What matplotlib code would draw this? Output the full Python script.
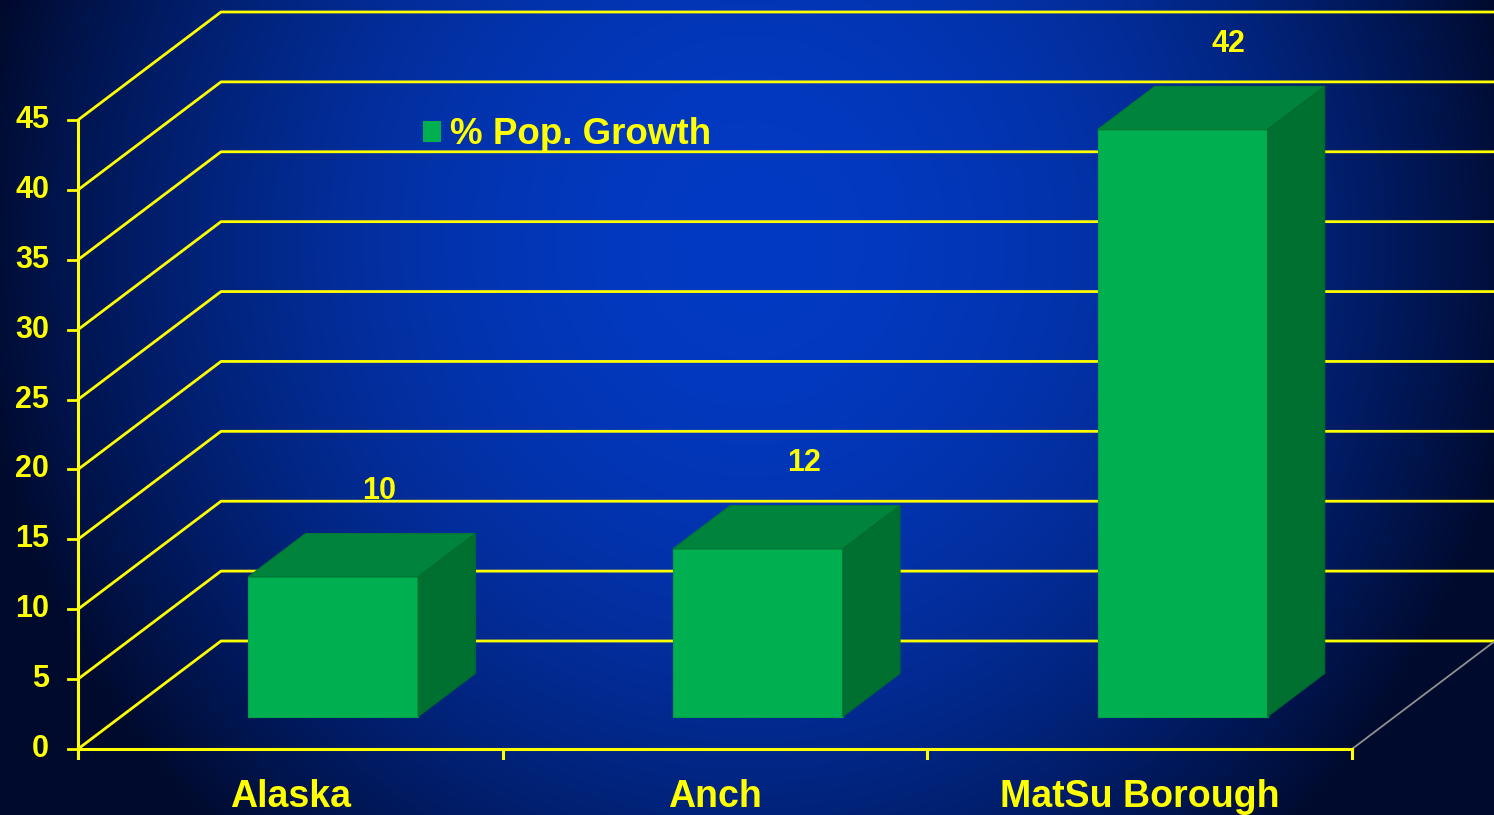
import matplotlib.pyplot as plt
from matplotlib.patches import Polygon, Patch
import numpy as np

categories = ['Alaska', 'Anch', 'MatSu Borough']
growth = [10, 12, 42]
yticks = [0, 5, 10, 15, 20, 25, 30, 35, 40, 45]
series_name = '% Pop. Growth'

W, H = 1494, 815
# pixel layout of the front plane
X0, XW = 78, 424.67      # x pixel of category 0 edge, pixels per category
Y0, YS = 749, 13.978     # y pixel (from top) of value 0, pixels per unit
DX, DY = 143 / XW, 108 / YS   # full depth offset in data units

YELLOW = '#FFFF00'
plt.rcParams['font.family'] = ['Liberation Sans', 'DejaVu Sans']
plt.rcParams['font.weight'] = 'bold'

fig = plt.figure(figsize=(W / 100, H / 100), dpi=100)

# background gradient
bg = fig.add_axes([0, 0, 1, 1])
yy, xx = np.mgrid[0:H, 0:W]
r2 = ((xx - 750) / 780.0) ** 2 + ((yy - 240) / 820.0) ** 2
f = np.clip(1 - r2, 0, 1)[..., None]
dark = np.array([0, 10, 45]) / 255
bright = np.array([3, 58, 195]) / 255
bg.imshow(dark + (bright - dark) * f, aspect='auto', extent=(0, W, H, 0))
bg.axis('off')

ax = fig.add_axes([0, 0, 1, 1])
ax.patch.set_alpha(0)
ax.set_xlim(-X0 / XW, (W - X0) / XW)
ax.set_ylim(-(H - Y0) / YS, Y0 / YS)
ax.axis('off')

n = len(categories)

# walls: grid lines on side and back walls
for v in yticks:
    ax.plot([0, DX, n + DX], [v, v + DY, v + DY], color=YELLOW, lw=2, zorder=2)
    ax.plot([-10 / XW, 0], [v, v], color=YELLOW, lw=2, zorder=2)
# front value axis and floor edge
ax.plot([0, 0], [0, yticks[-1]], color=YELLOW, lw=2.2, zorder=3)
ax.plot([0, n], [0, 0], color=YELLOW, lw=2.2, zorder=3)
for i in range(n + 1):
    ax.plot([i, i], [0, -9 / YS], color=YELLOW, lw=2.2, zorder=3)
ax.plot([n, n + DX], [0, DY], color='#909090', lw=1.3, zorder=2)

# 3D bars
d0, d1 = 0.3, 0.7
for i, v in enumerate(growth):
    xl = i + 0.3 + d0 * DX
    xr = i + 0.7 + d0 * DX
    yb = d0 * DY
    yt = v + d0 * DY
    ox, oy = (d1 - d0) * DX, (d1 - d0) * DY
    front = Polygon([(xl, yb), (xr, yb), (xr, yt), (xl, yt)],
                    fc='#00B050', ec='#00A048', lw=0.8, zorder=5)
    top = Polygon([(xl, yt), (xr, yt), (xr + ox, yt + oy), (xl + ox, yt + oy)],
                  fc='#00833A', ec='#007A35', lw=0.8, zorder=5)
    side = Polygon([(xr, yb), (xr + ox, yb + oy), (xr + ox, yt + oy), (xr, yt)],
                   fc='#007030', ec='#006A2C', lw=0.8, zorder=5)
    for p in (front, top, side):
        ax.add_patch(p)
    ax.text(i + 0.5 + 0.62 * DX, v + 0.6 * DY + 3.8, str(v), color=YELLOW,
            fontsize=22, fontweight='bold', ha='center', va='center', zorder=6)

# tick labels
for v in yticks:
    ax.text(-29 / XW, v, str(v), color=YELLOW, fontsize=22, fontweight='bold',
            ha='right', va='center')
for i, c in enumerate(categories):
    ax.text(i + 0.5, -(797 - Y0) / YS, c, color=YELLOW, fontsize=27,
            fontweight='bold', ha='center', va='center')

# legend
leg = ax.legend(handles=[Patch(fc='#00B050', ec='none', label=series_name)],
                loc='center left', bbox_to_anchor=(423 / W, 1 - 135 / H),
                bbox_transform=fig.transFigure, frameon=False,
                borderpad=0, borderaxespad=0, handlelength=0.48,
                handleheight=0.48, handletextpad=0.25,
                prop={'size': 26.5, 'weight': 'bold'})
for t in leg.get_texts():
    t.set_color(YELLOW)

fig.savefig('out.png', dpi=100)
